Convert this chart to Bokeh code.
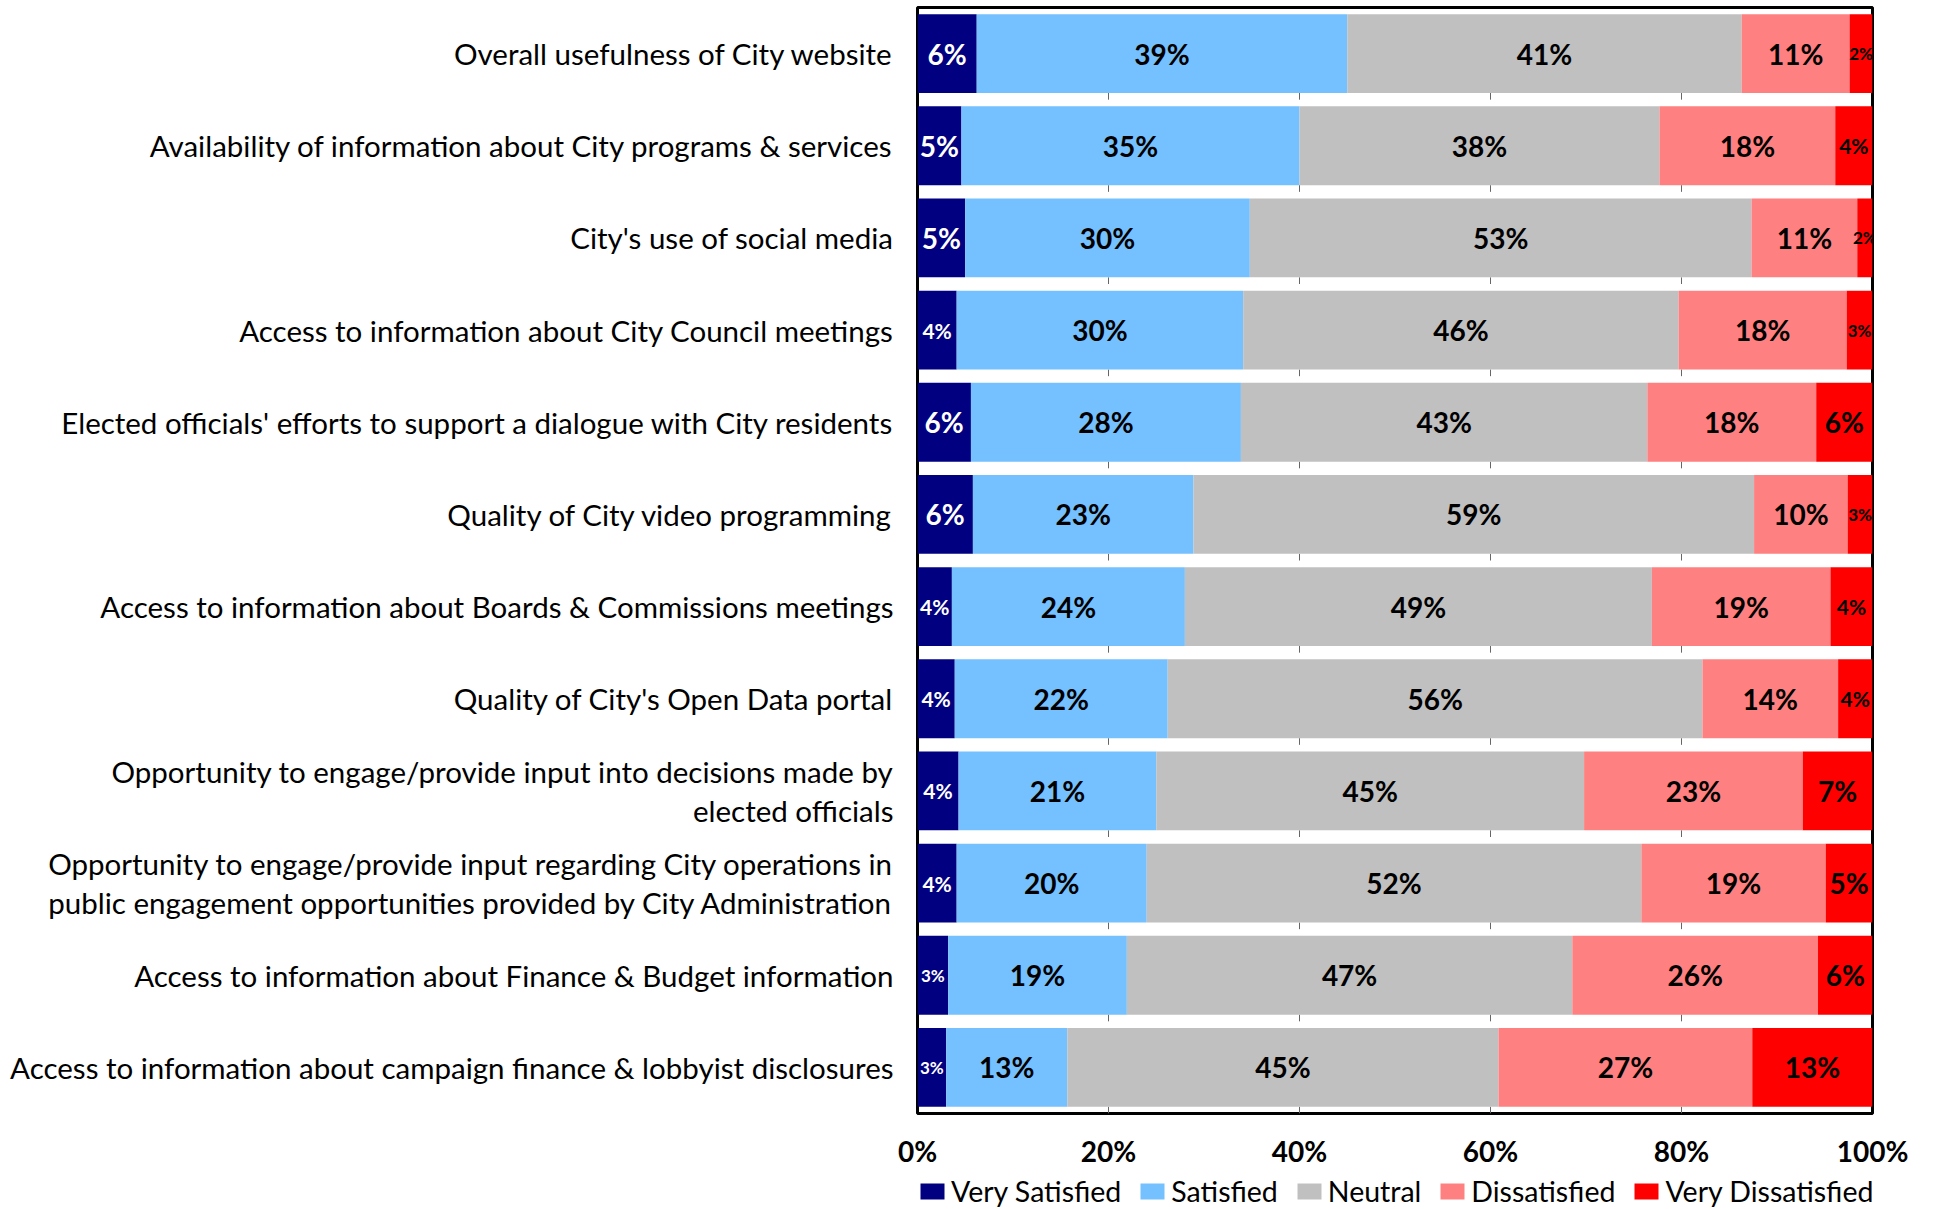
from bokeh.plotting import figure
from bokeh.layouts import column
from bokeh.models import (ColumnDataSource, FactorRange, Range1d, FixedTicker,
                          PrintfTickFormatter, Legend, LegendItem)
from bokeh.transform import dodge
from bokeh.core.properties import value
from bokeh.embed import file_html
from bokeh.resources import INLINE

categories = [
    "Overall usefulness of City website",
    "Availability of information about City programs & services",
    "City's use of social media",
    "Access to information about City Council meetings",
    "Elected officials' efforts to support a dialogue with City residents",
    "Quality of City video programming",
    "Access to information about Boards & Commissions meetings",
    "Quality of City's Open Data portal",
    "Opportunity to engage/provide input into decisions made by\nelected officials",
    "Opportunity to engage/provide input regarding City operations in\npublic engagement opportunities provided by City Administration",
    "Access to information about Finance & Budget information",
    "Access to information about campaign finance & lobbyist disclosures",
]

series_names = ["Very Satisfied", "Satisfied", "Neutral", "Dissatisfied", "Very Dissatisfied"]

very_satisfied = [6.2, 4.6, 5.0, 4.1, 5.6, 5.8, 3.6, 3.9, 4.3, 4.1, 3.2, 3.0]
satisfied = [38.8, 35.4, 29.9, 30.0, 28.3, 23.1, 24.4, 22.3, 20.7, 19.9, 18.7, 12.7]
neutral = [41.3, 37.7, 52.7, 45.6, 42.6, 58.7, 48.9, 56.0, 44.8, 51.8, 46.6, 45.2]
dissatisfied = [11.3, 18.4, 11.1, 17.6, 17.7, 9.8, 18.7, 14.2, 22.9, 19.3, 25.7, 26.6]
very_dissatisfied = [2.4, 3.9, 1.6, 2.7, 5.9, 2.6, 4.4, 3.6, 7.3, 4.9, 5.7, 12.6]

x_ticks = [0, 20, 40, 60, 80, 100]

colors = ["#000080", "#75C1FF", "#C0C0C0", "#FF8080", "#FF0000"]
label_colors = ["white", "black", "black", "black", "black"]

series = [very_satisfied, satisfied, neutral, dissatisfied, very_dissatisfied]

FONT = "Lato"
BAR_H = 0.855
TOTAL_W = 1922

p = figure(
    y_range=FactorRange(factors=list(reversed(categories))),
    x_range=Range1d(0, 100),
    frame_width=955, frame_height=1106,
    min_border_left=917, min_border_right=50, min_border_top=7, min_border_bottom=0,
    output_backend="svg", toolbar_location=None,
)
p.background_fill_color = "white"
p.border_fill_color = "white"
p.xgrid.visible = False
p.ygrid.visible = False
p.outline_line_color = "black"
p.outline_line_width = 3
p.outline_line_alpha = 1.0

# short gridline stubs visible in the gaps below each bar
stub_x, stub_y = [], []
for c in categories:
    for t in x_ticks[1:-1]:
        stub_x.append(t)
        stub_y.append(c)
stub_src = ColumnDataSource(dict(x=stub_x, y=stub_y))
p.segment(x0="x", x1="x",
          y0=dodge("y", -BAR_H / 2, range=p.y_range),
          y1=dodge("y", -0.5, range=p.y_range),
          source=stub_src, line_color="#666666", line_width=1)

totals = [sum(s[i] for s in series) for i in range(len(categories))]

sources = []
cum = [0.0] * len(categories)
lab_x, lab_y, lab_t, lab_c, lab_s = [], [], [], [], []
for k, (name, vals) in enumerate(zip(series_names, series)):
    left = list(cum)
    right = [cum[i] + vals[i] * 100.0 / totals[i] for i in range(len(categories))]
    src = ColumnDataSource(dict(y=categories, left=left, right=right))
    sources.append(src)
    p.hbar(y="y", left="left", right="right", height=BAR_H, source=src,
           fill_color=colors[k], line_color=None)
    for i in range(len(categories)):
        v = round(vals[i])
        lab_x.append((left[i] + right[i]) / 2)
        lab_y.append(categories[i])
        lab_t.append(f"{v}%")
        lab_c.append(label_colors[k])
        if v <= 3:
            lab_s.append("17px")
        elif v == 4:
            lab_s.append("21px")
        else:
            lab_s.append("28px")
    cum = right

lab_src = ColumnDataSource(dict(x=lab_x, y=lab_y, text=lab_t, color=lab_c, size=lab_s))
p.text(x="x", y="y", text="text", source=lab_src, text_color="color",
       text_font=value(FONT), text_font_style="bold", text_font_size="size",
       text_align="center", text_baseline="middle")

# axes
p.xaxis.ticker = FixedTicker(ticks=x_ticks)
p.xaxis.formatter = PrintfTickFormatter(format="%d%%")
p.xaxis.axis_line_color = None
p.xaxis.major_tick_line_color = None
p.xaxis.minor_tick_line_color = None
p.xaxis.major_tick_out = 0
p.xaxis.major_tick_in = 0
p.xaxis.major_label_text_font = FONT
p.xaxis.major_label_text_font_style = "bold"
p.xaxis.major_label_text_font_size = "28px"
p.xaxis.major_label_text_color = "black"
p.xaxis.major_label_standoff = 20

p.yaxis.axis_line_color = None
p.yaxis.major_tick_line_color = None
p.yaxis.minor_tick_line_color = None
p.yaxis.major_label_text_font = FONT
p.yaxis.major_label_text_font_size = "29.5px"
p.yaxis.major_label_text_color = "black"
p.yaxis.major_label_standoff = 18
p.yaxis.major_label_text_line_height = 1.1

# legend strip below the chart (its frame lines up with the chart frame)
leg = figure(width=TOTAL_W, height=40, x_range=Range1d(0, 100),
             y_range=FactorRange(factors=list(reversed(categories))),
             x_axis_type=None, y_axis_type=None, toolbar_location=None,
             output_backend="svg", min_border=0)
leg.outline_line_color = None
leg.background_fill_color = "white"
leg.border_fill_color = "white"
items = []
for k, name in enumerate(series_names):
    r = leg.hbar(y="y", left="left", right="right", height=BAR_H, source=sources[k],
                 fill_color=colors[k], line_color=None, visible=False)
    items.append(LegendItem(label=name, renderers=[r]))
legend = Legend(items=items, orientation="horizontal", location=(0, 2),
                glyph_width=30, glyph_height=20, label_standoff=4, spacing=16,
                padding=0, margin=0, border_line_color=None,
                background_fill_alpha=0, inactive_fill_alpha=0,
                label_text_font=FONT, label_text_font_size="28.5px",
                label_text_color="black")
leg.add_layout(legend)

layout = column(p, leg, spacing=0)
open("out.html", "w").write(file_html(layout, INLINE))
